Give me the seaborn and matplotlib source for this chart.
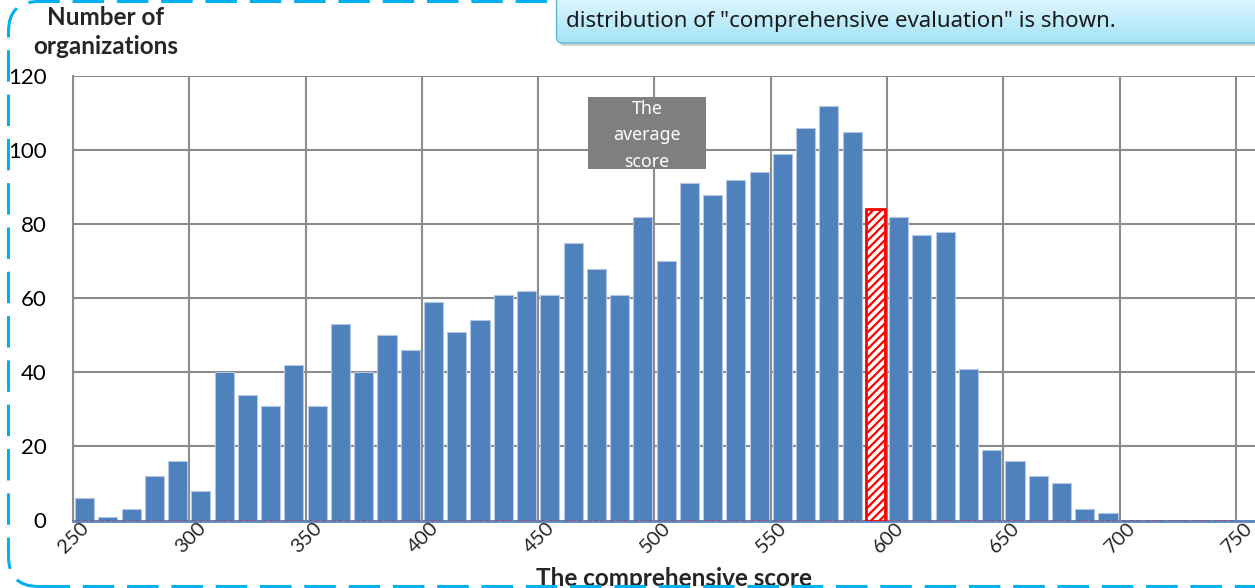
import numpy as np
import matplotlib
matplotlib.use("Agg")
import matplotlib.pyplot as plt
from matplotlib.patches import FancyBboxPatch, Rectangle
from matplotlib.transforms import IdentityTransform, ScaledTranslation
import seaborn as sns

# Histogram of the comprehensive score: 10-point bins, centres 255 ... 745
score_bins = list(range(255, 750, 10))
org_counts = [6, 1, 3, 12, 16, 8, 40, 34, 31, 42,
              31, 53, 40, 50, 46, 59, 51, 54, 61, 62,
              61, 75, 68, 61, 82, 70, 91, 88, 92, 94,
              99, 106, 112, 105, 0, 82, 77, 78, 41, 19,
              16, 12, 10, 3, 2, 0, 0, 0, 0, 0]
# Bin of the organisation being highlighted
highlight_counts = [0] * len(score_bins)
highlight_counts[score_bins.index(595)] = 84

x_ticks = list(range(250, 751, 50))
y_ticks = list(range(0, 121, 20))

y_title = "Number of\norganizations"
x_title = "The comprehensive score"
avg_label = "The\naverage\nscore"
note_text = 'distribution of "comprehensive evaluation" is shown.'

sns.set_style("white")
plt.rcParams["font.family"] = ["Lato", "DejaVu Sans"]
plt.rcParams["hatch.linewidth"] = 1.6

W, H = 1255, 588
fig = plt.figure(figsize=(W / 100, H / 100), dpi=100)
ax = fig.add_axes([73 / W, 1 - 520.5 / H, (W - 73) / W, 444.5 / H])

bar_blue = "#4F81BD"
sns.barplot(x=score_bins, y=org_counts, native_scale=True, width=0.82,
            color=bar_blue, saturation=1, edgecolor="#B4C8E3", linewidth=0.8,
            errorbar=None, ax=ax, zorder=2)

n_blue = len(ax.patches)
sns.barplot(x=score_bins, y=highlight_counts, native_scale=True, width=0.85,
            color="white", saturation=1, edgecolor="#FF0000", linewidth=2.0,
            hatch="////", errorbar=None, ax=ax, zorder=3)
for p in ax.patches[n_blue:]:
    if p.get_height() == 0:
        p.set_linestyle((0, (3, 2)))
        p.set_linewidth(1.0)

ax.set_xlim(250, 758.2)
ax.set_ylim(0, 120)
ax.set_xticks(x_ticks)
ax.set_yticks(y_ticks)
ax.set_xticklabels([])
ax.set_yticklabels([str(v) for v in y_ticks], fontsize=16)

# slanted score labels, each centred just below its tick
label_off = ScaledTranslation(1 / 100, -17.5 / 100, fig.dpi_scale_trans)
for v in x_ticks:
    ax.text(v, 0, str(v), transform=ax.get_xaxis_transform() + label_off,
            rotation=45, ha="center", va="center", fontsize=14.5,
            clip_on=False)

grid_c = "#8C8C8C"
ax.grid(True, color=grid_c, linewidth=1.5, zorder=0)
ax.set_axisbelow(True)
for s in ["top", "right"]:
    ax.spines[s].set_visible(False)
ax.spines["left"].set_color(grid_c)
ax.spines["left"].set_linewidth(1.5)
ax.spines["bottom"].set_color("#5A86BF")
ax.spines["bottom"].set_linewidth(2.0)
ax.tick_params(axis="x", direction="out", length=4, width=1.5,
               color="#6F8FBF", pad=0)
ax.tick_params(axis="y", length=0, pad=19, labelcolor="black")

ax.set_xlabel(x_title, fontsize=17.5, fontweight="bold")
ax.xaxis.label.set_va("center")
ax.xaxis.set_label_coords((674 - 73) / (W - 73), (520.5 - 578) / 444.5)
ax.set_ylabel(y_title, fontsize=17.5, fontweight="bold", rotation=0,
              ha="center", va="center", linespacing=1.3)
ax.yaxis.set_label_coords((106 - 73) / (W - 73), (520.5 - 32) / 444.5)

# Grey tag marking the average score
ax.add_patch(Rectangle((471.4, 94.9), 50.7, 19.4, facecolor="#7F7F7F",
                       edgecolor="none", zorder=5))
ax.text(496.8, 104.0, avg_label, ha="center", va="center", color="white",
        fontsize=12.8, linespacing=1.6, family=["Noto Sans", "DejaVu Sans"],
        zorder=6)

# Dashed rounded frame around the whole chart
frame = FancyBboxPatch((8.5, 1.5), 1500, 585,
                       boxstyle="round,pad=0,rounding_size=30",
                       transform=IdentityTransform(), fill=False,
                       edgecolor="#00B0F0", linewidth=2.2,
                       linestyle=(0, (10.3, 4.2)), zorder=1)
fig.add_artist(frame)

# Callout box at the top right, with a soft shadow and a vertical gradient
shadow = FancyBboxPatch((559, H - 46), 800, 120,
                        boxstyle="round,pad=0,rounding_size=6",
                        transform=IdentityTransform(), facecolor="#9A9A9A",
                        edgecolor="none", alpha=0.45, zorder=7)
fig.add_artist(shadow)
callout = FancyBboxPatch((556.5, H - 43), 800, 120,
                         boxstyle="round,pad=0,rounding_size=6",
                         transform=IdentityTransform(), facecolor="#B9EAFB",
                         edgecolor="none", zorder=8)
fig.add_artist(callout)
gax = fig.add_axes([556.5 / W, (H - 43) / H, (W - 556.5) / W, 43 / H])
gax.set_zorder(8.5)
gax.axis("off")
grad = np.linspace(0, 1, 64)[:, None]
top_c = np.array([0.86, 0.965, 1.0])
bot_c = np.array([0.64, 0.89, 0.97])
img = grad[..., None] * bot_c + (1 - grad[..., None]) * top_c
im = gax.imshow(img, aspect="auto", extent=(0, 1, 0, 1), origin="upper")
gax.set_xlim(0, 1)
gax.set_ylim(0, 1)
im.set_clip_path(callout)
edge = FancyBboxPatch((556.5, H - 43), 800, 120,
                      boxstyle="round,pad=0,rounding_size=6",
                      transform=IdentityTransform(), fill=False,
                      edgecolor="#5DB7D6", linewidth=1.0, zorder=9)
fig.add_artist(edge)
fig.text(566 / W, 1 - 22 / H, note_text, ha="left", va="center",
         fontsize=16, color="#1A1A1A", family=["Noto Sans", "DejaVu Sans"],
         zorder=10)

fig.savefig("out.png", dpi=100)
